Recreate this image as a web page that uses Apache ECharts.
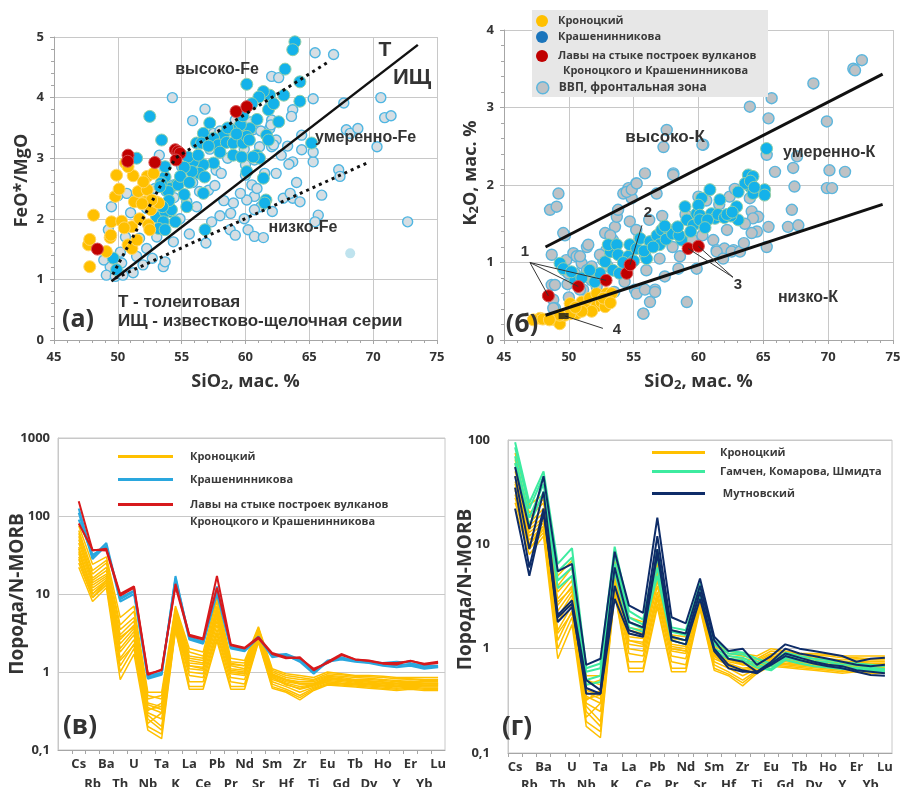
<!DOCTYPE html>
<html><head><meta charset="utf-8">
<script src="https://cdn.jsdelivr.net/npm/echarts@6/dist/echarts.min.js"></script>
<style>html,body{margin:0;padding:0;background:#fff}#c{width:901px;height:787px}</style>
</head><body><div id="c"></div>
<script>
// ---------- DATA ----------
const elements = ['Cs','Rb','Ba','Th','U','Nb','Ta','K','La','Ce','Pb','Pr','Nd','Sr','Sm','Hf','Zr','Ti','Eu','Gd','Tb','Dy','Ho','Y','Er','Yb','Lu'];

// Panel (а): SiO2 vs FeO*/MgO
const aKron = [[47.8,1.21],[47.7,1.57],[47.8,1.66],[48.1,2.06],[49.1,1.46],[49.4,1.69],[49.5,1.95],[49.45,1.73],[49.9,2.72],[49.8,2.37],[50.1,2.49],[50.3,1.96],[50.6,2.92],[50.8,1.57],[51.1,1.51],[51.2,2.71],[51.1,1.87],[51.3,2.28],[51.5,1.65],[51.6,2.45],[51.7,2.0],[52.1,2.28],[52.3,2.7],[52.3,2.48],[52.4,1.9],[52.5,1.82],[52.6,2.15],[52.8,2.75],[53.0,2.28],[53.2,2.26],[52.65,2.31],[52.0,2.61],[50.8,2.86],[51.9,2.25],[50.5,1.85]];
const aRed = [[48.4,1.5],[50.8,3.05],[50.77,2.95],[52.9,2.93],[54.5,3.14],[54.7,3.11],[54.87,3.08],[54.56,2.97],[59.26,3.77],[60.1,3.85]];
const aKrash = [[63.87,4.92],[63.7,4.79],[63.1,4.47],[60.1,4.22],[64.26,4.26],[64.26,3.94],[63.0,4.04],[61.9,4.04],[61.4,4.1],[61.05,4.01],[61.8,3.8],[60.9,3.64],[60.35,3.49],[59.6,3.55],[58.9,3.47],[58.26,3.38],[57.2,3.58],[56.7,3.41],[56.17,3.25],[57.5,3.33],[57.87,3.22],[58.5,3.26],[59.04,3.25],[59.8,3.25],[60.1,3.36],[61.65,3.38],[61.8,3.3],[59.04,3.05],[59.7,3.02],[60.87,3.05],[61.1,3.0],[60.6,3.02],[65.18,3.25],[57.5,2.92],[56.7,2.89],[56.4,2.75],[56.8,2.69],[55.9,2.94],[55.5,3.02],[54.6,2.56],[54.08,2.5],[53.7,2.69],[56.7,2.42],[60.1,2.78],[61.4,2.67],[61.6,2.31],[53.43,3.3],[53.4,2.59],[54.08,2.12],[56.83,1.82],[61.5,2.26],[52.5,3.69],[51.47,3.0],[53.7,2.86],[54.73,2.56],[53.95,2.45],[53.3,2.53],[53.04,2.03],[53.7,2.12],[54.2,2.15],[53.56,1.95],[53.2,1.84],[53.7,1.82],[55.4,2.2],[55.8,2.78],[56.3,3.05],[56.56,3.25],[49.64,1.35],[49.9,1.16],[57.1,3.2],[58.0,3.1],[58.6,3.5],[59.3,3.4],[60.3,3.3],[62.6,3.6],[62.2,3.9],[60.5,3.9],[59.8,3.7],[55.2,2.85],[54.9,2.7],[55.6,2.6],[54.0,2.3],[53.5,2.2],[54.5,1.95],[55.2,2.4]];
const aVVP = [[54.27,4.0],[56.83,3.81],[55.86,3.62],[53.25,3.05],[53.25,2.87],[55.0,2.86],[55.86,2.6],[56.4,2.45],[54.35,2.56],[55.4,2.28],[56.17,2.2],[54.87,2.0],[53.7,1.82],[53.05,1.7],[54.35,1.62],[53.56,1.21],[53.7,1.29],[52.26,1.51],[51.47,1.38],[50.3,1.27],[49.4,1.21],[48.9,1.32],[49.1,1.07],[49.8,1.05],[50.4,1.07],[51.2,1.11],[51.97,1.24],[49.26,1.82],[49.5,2.2],[50.0,2.38],[50.7,2.42],[51.7,1.68],[52.26,2.17],[52.9,2.09],[57.5,3.41],[57.87,3.14],[58.8,3.38],[59.6,3.52],[59.2,3.63],[60.6,3.47],[62.05,4.35],[61.9,3.85],[62.05,3.63],[61.9,3.49],[62.4,3.3],[62.05,3.19],[61.1,3.19],[59.6,3.03],[60.0,2.89],[60.7,2.97],[60.0,2.72],[60.5,2.56],[60.7,2.37],[60.1,2.31],[59.05,2.26],[59.6,2.42],[58.84,2.09],[58.8,1.82],[59.2,1.73],[60.2,1.82],[60.7,1.71],[61.4,1.69],[57.35,1.95],[61.5,2.75],[62.4,2.75],[62.96,2.34],[63.7,2.34],[64.27,2.28],[63.5,2.42],[61.6,2.31],[62.1,2.12],[63.7,2.94],[64.4,3.14],[64.4,3.38],[65.3,2.94],[65.3,3.1],[65.97,2.39],[65.7,2.06],[65.45,1.95],[65.3,3.98],[65.45,4.74],[66.9,4.71],[63.7,3.8],[63.6,3.69],[62.6,4.33],[67.7,3.91],[67.9,3.47],[68.2,3.41],[68.8,3.49],[70.6,4.0],[70.9,3.67],[71.4,3.7],[70.3,3.19],[67.3,2.81],[67.4,2.7],[72.7,1.95],[55.8,2.97],[57.7,2.8],[57.1,2.47],[57.2,3.15],[58.0,3.45],[58.6,3.0],[59.3,3.33],[59.9,3.15],[60.4,3.6],[61.2,3.45],[62.0,3.55],[63.3,3.2],[62.8,3.05],[63.4,2.9],[64.0,2.6],[60.9,2.5],[61.2,2.2],[59.9,2.0],[58.3,2.3],[57.6,2.55],[58.1,2.75],[60.7,2.15],[62.2,3.22],[50.6,1.7],[51.0,2.1],[50.2,1.45],[52.7,1.35],[53.8,2.45],[54.4,2.35],[51.5,2.35],[52.9,2.5],[56.9,1.6],[55.6,1.75],[58.0,2.05]];
const aPale = [[68.2,1.43]];
const aLineSolid = [[49.5,0.97],[73.5,4.87]];
const aLineDotUpper = [[49.6,1.08],[54.5,3.0],[66.5,4.59]];
const aLineDotLower = [[49.8,1.02],[69.7,2.94]];

// Panel (б): SiO2 vs K2O
const bKron = [[47.78,0.28],[47.26,0.26],[48.0,0.27],[48.93,0.26],[49.3,0.21],[49.7,0.32],[50.1,0.47],[50.6,0.34],[51.0,0.49],[51.25,0.41],[51.6,0.54],[52.15,0.44],[52.15,0.6],[52.5,0.49],[52.8,0.43],[53.05,0.54],[52.9,0.6],[53.3,0.6],[51.76,0.37],[51.0,0.37],[50.1,0.34],[49.3,0.32],[48.5,0.26],[52.66,0.54],[50.5,0.42],[53.2,0.48]];
const bRed = [[48.42,0.57],[50.73,0.69],[52.87,0.77],[54.46,0.86],[54.72,0.97],[59.2,1.18],[59.99,1.21]];
const bKrash = [[49.32,0.99],[49.57,0.92],[50.47,0.77],[52.0,0.75],[52.4,0.86],[52.8,1.01],[53.2,1.14],[53.04,1.23],[53.7,1.23],[53.8,1.1],[53.4,0.9],[53.9,0.86],[54.6,1.08],[54.7,1.23],[55.23,1.18],[55.5,1.31],[56.0,1.05],[56.26,1.27],[56.8,1.35],[57.0,1.23],[57.16,1.42],[57.8,1.38],[58.3,1.44],[58.7,1.29],[59.1,1.55],[58.96,1.72],[59.6,1.48],[59.86,1.63],[60.24,1.83],[60.0,1.74],[65.25,2.47],[63.84,2.13],[64.2,2.11],[63.97,1.98],[64.2,1.89],[63.6,2.02],[65.1,1.94],[65.1,1.87],[63.06,1.91],[60.88,1.94],[61.65,1.81],[60.1,1.61],[62.94,1.72],[61.0,1.63],[61.9,1.59],[61.27,1.57],[63.06,1.55],[60.1,1.55],[60.7,1.55],[55.8,1.15],[56.5,1.2],[57.5,1.3],[58.0,1.37],[58.5,1.35],[59.4,1.4],[61.5,1.62],[62.0,1.58],[62.5,1.6],[64.0,2.05],[64.3,1.97],[62.2,1.62],[60.5,1.45],[51.0,0.8],[51.6,0.9],[50.2,0.88],[54.2,1.0],[55.0,1.02],[57.4,1.47],[58.4,1.46],[62.6,1.65]];
const bVVP = [[48.55,1.68],[49.06,1.72],[49.2,1.89],[49.7,1.35],[48.68,1.1],[48.68,0.71],[48.8,0.52],[48.93,0.41],[49.06,0.26],[49.7,0.9],[49.8,1.03],[50.35,1.12],[50.47,0.86],[50.6,1.08],[50.99,0.99],[50.99,0.8],[51.4,1.2],[51.4,0.9],[51.1,0.65],[51.6,0.92],[51.76,0.77],[52.15,0.69],[52.66,1.03],[52.9,1.16],[52.8,1.38],[53.4,1.29],[53.56,1.46],[53.7,1.59],[54.2,1.89],[54.6,1.96],[54.85,1.83],[55.2,2.02],[55.87,2.15],[54.7,1.53],[55.2,1.42],[55.87,1.1],[55.98,0.9],[55.1,0.65],[56.26,0.49],[55.75,0.34],[56.77,1.89],[56.65,0.65],[57.4,0.82],[57.3,2.49],[57.55,2.71],[58.06,2.15],[58.45,0.92],[58.57,1.08],[59.1,0.49],[59.86,0.92],[59.99,1.85],[60.37,2.52],[61.14,1.29],[61.4,1.16],[62.0,1.18],[62.2,1.42],[62.7,1.16],[63.96,3.01],[63.96,1.83],[64.1,1.66],[64.5,1.4],[64.6,1.59],[65.26,1.2],[65.4,1.46],[65.26,2.39],[65.4,2.86],[65.64,3.12],[65.9,2.17],[66.9,1.46],[67.2,1.68],[67.3,2.22],[67.4,1.98],[67.7,1.48],[67.6,2.37],[68.86,3.31],[69.9,2.82],[70.1,2.19],[69.9,1.96],[70.3,1.96],[71.3,2.17],[71.94,3.5],[72.07,3.48],[72.6,3.61],[61.4,1.14],[61.9,1.05],[62.55,1.14],[63.2,1.14],[64.2,1.57],[64.1,1.38],[63.58,1.5],[49.57,1.38],[54.46,1.91],[54.85,1.94],[55.23,2.02],[58.05,2.13],[53.8,1.68],[53.2,1.35],[51.5,1.23],[50.86,1.08],[49.96,0.86],[48.93,0.71],[51.76,0.95],[55.23,0.6],[55.87,0.65],[56.65,0.62],[55.74,0.34],[48.8,0.41],[50.86,0.65],[60.3,2.52],[52.4,1.1],[53.0,0.95],[57.0,1.05],[58.0,1.2],[59.5,1.3],[60.3,1.35],[60.6,1.8],[61.6,1.75],[62.4,1.85],[62.8,1.95],[63.5,1.25],[59.0,1.62],[56.2,1.55],[57.2,1.6],[54.3,0.75],[53.5,0.62],[52.2,0.55],[50.0,0.55],[49.9,0.72]];
const bLineUpper = [[48.2,1.2],[74.2,3.43]];
const bLineLower = [[48.2,0.32],[74.2,1.75]];
const bMark4 = [[49.6,0.31]];
const bLeaders = [
  [[47.0,1.0],[48.42,0.57]], [[47.0,1.0],[50.73,0.69]], [[47.0,1.0],[52.87,0.77]],
  [[55.64,1.48],[54.72,0.97]],
  [[62.66,0.81],[59.2,1.18]], [[62.66,0.81],[59.99,1.21]],
  [[52.63,0.15],[49.7,0.31]]
];

// Panel (в) & (г): spider diagrams, rock / N-MORB
const kronLines = [
 [75,24,30,5.0,7.0,0.55,0.55,7.0,2.0,1.8,9,1.5,1.4,3.8,1.1,0.95,0.9,0.85,1.0,0.95,0.9,0.9,0.88,0.85,0.85,0.85,0.85],
 [65,20,27,4.0,6.0,0.5,0.45,6.5,1.8,1.6,8,1.35,1.3,3.6,1.05,0.9,0.85,0.8,0.95,0.92,0.88,0.87,0.85,0.82,0.82,0.8,0.8],
 [60,18,25,3.5,5.0,0.45,0.5,6.0,1.5,1.4,7,1.25,1.2,3.5,1.0,0.85,0.8,0.78,0.9,0.88,0.85,0.83,0.8,0.78,0.8,0.78,0.78],
 [55,16,22,3.0,4.5,0.4,0.36,5.5,1.4,1.3,6,1.2,1.1,3.3,0.95,0.8,0.75,0.75,0.88,0.85,0.8,0.8,0.78,0.75,0.76,0.75,0.75],
 [50,15,20,2.6,4.0,0.38,0.33,5.0,1.3,1.25,5,1.1,1.05,3.2,0.9,0.78,0.72,0.72,0.85,0.82,0.78,0.76,0.75,0.72,0.75,0.72,0.72],
 [45,14,18,2.3,3.6,0.35,0.3,4.5,1.2,1.15,4.5,1.05,1.0,3.0,0.88,0.75,0.7,0.7,0.82,0.8,0.76,0.74,0.72,0.7,0.72,0.7,0.7],
 [40,13,17,2.0,3.3,0.33,0.36,4.2,1.1,1.05,4.0,1.0,0.95,2.9,0.85,0.72,0.65,0.68,0.8,0.78,0.74,0.72,0.7,0.68,0.7,0.68,0.68],
 [35,12,16,1.8,3.0,0.3,0.25,4.0,1.0,0.95,3.5,0.95,0.9,2.8,0.8,0.7,0.6,0.66,0.78,0.75,0.72,0.7,0.68,0.66,0.68,0.66,0.66],
 [33,11,15,1.5,2.6,0.28,0.2,3.8,0.9,0.85,3.2,0.85,0.8,2.7,0.75,0.65,0.55,0.64,0.75,0.72,0.7,0.68,0.66,0.64,0.66,0.64,0.64],
 [30,10,14,1.2,2.3,0.25,0.18,3.6,0.75,0.75,3.0,0.75,0.7,2.6,0.7,0.6,0.5,0.62,0.72,0.7,0.68,0.66,0.64,0.62,0.64,0.62,0.62],
 [28,9,13,1.0,2.0,0.2,0.16,3.5,0.65,0.65,2.7,0.65,0.65,2.5,0.65,0.57,0.47,0.6,0.7,0.68,0.66,0.64,0.62,0.6,0.62,0.6,0.6],
 [22,8,12,0.8,1.7,0.18,0.14,3.4,0.6,0.6,2.5,0.6,0.6,2.4,0.62,0.55,0.44,0.58,0.68,0.66,0.64,0.62,0.6,0.58,0.6,0.58,0.58],
 [25,9,14,1.4,2.2,0.22,0.3,4.8,1.2,1.1,5.5,1.0,0.95,3.4,0.85,0.68,0.62,0.68,0.75,0.72,0.7,0.7,0.67,0.65,0.7,0.67,0.68],
 [38,10,15,2.8,3.8,0.32,0.4,6.5,1.6,1.5,6.5,1.3,1.2,3.7,0.92,0.8,0.7,0.7,0.85,0.8,0.78,0.77,0.74,0.72,0.74,0.72,0.72]
];
const krashLines = [
 [125,30,45,8.5,10.8,0.82,0.92,17,2.7,2.35,11,2.05,1.88,2.8,1.55,1.65,1.35,0.95,1.35,1.45,1.35,1.3,1.2,1.15,1.2,1.1,1.15],
 [110,28,42,8.0,10.0,0.85,0.95,15,2.6,2.3,10,2.0,1.85,2.75,1.6,1.6,1.4,1.0,1.4,1.5,1.4,1.35,1.3,1.35,1.3,1.2,1.2],
 [90,32,40,9.0,11,0.9,0.98,16,2.8,2.45,12.5,2.1,1.95,2.85,1.65,1.7,1.45,1.02,1.32,1.55,1.38,1.32,1.25,1.22,1.25,1.15,1.18]
];
const junctionLines = [
 [155,36,38,10,12.5,0.95,1.05,13.5,3.0,2.7,17,2.25,2.05,2.8,1.75,1.55,1.5,1.1,1.3,1.65,1.45,1.4,1.3,1.3,1.38,1.28,1.35],
 [80,37,36,9.5,12,0.92,1.08,12.5,2.9,2.6,12,2.2,2.0,2.7,1.7,1.5,1.55,1.05,1.35,1.7,1.45,1.38,1.28,1.25,1.4,1.25,1.3]
];
const gamchenLines = [
 [95,25,50,6.5,9.2,0.65,0.72,9.5,2.3,1.9,9,1.6,1.5,4.2,1.2,0.95,0.92,0.8,0.72,0.92,0.85,0.8,0.78,0.74,0.72,0.7,0.68],
 [85,22,45,5.5,7.5,0.6,0.65,8,2.0,1.7,7.5,1.45,1.35,3.9,1.1,0.9,0.88,0.75,0.68,0.88,0.8,0.76,0.74,0.7,0.7,0.66,0.64],
 [70,18,38,4.5,6.0,0.5,0.55,6.5,1.8,1.55,6,1.3,1.2,3.5,1.0,0.85,0.82,0.7,0.64,0.82,0.76,0.72,0.7,0.66,0.66,0.64,0.62],
 [60,15,32,3.8,5.0,0.45,0.48,5.5,1.6,1.45,5,1.2,1.1,3.2,0.95,0.8,0.78,0.66,0.62,0.78,0.72,0.68,0.66,0.64,0.64,0.62,0.6]
];
const mutnovLines = [
 [55,14,45,5.5,6.5,0.7,0.8,8.5,2.6,2.2,18,2.0,1.75,4.7,1.3,0.95,1.0,0.7,0.85,1.1,1.0,0.95,0.9,0.85,0.75,0.8,0.82],
 [45,9,32,2.1,2.9,0.5,0.4,6,1.8,1.6,12,1.5,1.4,4.0,1.2,0.8,0.75,0.6,0.75,1.0,0.9,0.85,0.8,0.75,0.7,0.68,0.7],
 [35,6,22,1.8,2.5,0.42,0.37,4,1.5,1.35,9,1.3,1.2,3.5,1.0,0.7,0.62,0.58,0.72,0.9,0.82,0.75,0.7,0.68,0.62,0.6,0.58],
 [22,5,20,2.0,2.7,0.37,0.37,3,1.4,1.3,8,1.2,1.1,3.0,0.95,0.65,0.6,0.6,0.7,0.85,0.78,0.72,0.68,0.65,0.6,0.56,0.55]
];

// ---------- STYLE ----------
const FONT = "'Open Sans', 'DejaVu Sans', sans-serif";
const ARIAL = "'Liberation Sans', Arial, sans-serif";
const TXT = '#333333';
const AX = '#a6a6a6';
const GRIDC = '#c8c8c8';
const C_KRON = '#FFC000', C_CYAN = '#14B2EA', C_RED = '#C00000';
const C_BLUE_L = '#2AA7DE', C_RED_L = '#D7191C', C_GREEN = '#3DEBA0', C_NAVY = '#0E2C68';

const NM_KRON = 'Кроноцкий', NM_KRASH = 'Крашенинникова', NM_RED = 'Лавы на стыке построек вулканов', NM_VVP = 'ВВП, фронтальная зона';
const NB = '\u00a0';

const nameRich = {
  a:{fontSize:18,fontWeight:'bold',color:TXT,fontFamily:FONT},
  s:{fontSize:13,fontWeight:'bold',color:TXT,fontFamily:FONT,padding:[7,0,0,0]}
};

function sciX(gi, nameStr) {
  return {gridIndex:gi, type:'value', min:45, max:75, interval:5,
    axisLine:{show:true,onZero:false,lineStyle:{color:AX}},
    axisTick:{show:true,length:4,lineStyle:{color:AX}},
    minorTick:{show:true,splitNumber:5,length:3,lineStyle:{color:AX}},
    axisLabel:{fontSize:13,fontWeight:'bold',color:TXT,margin:11,fontFamily:FONT},
    splitLine:{show:true,lineStyle:{color:GRIDC}},
    name:nameStr, nameLocation:'middle', nameGap:32,
    nameTextStyle:{rich:nameRich}};
}
function sciY(gi, max, nameStr, pad) {
  return {gridIndex:gi, type:'value', min:0, max:max, interval:1,
    axisLine:{show:true,onZero:false,lineStyle:{color:AX}},
    axisTick:{show:true,length:4,lineStyle:{color:AX}},
    minorTick:{show:true,splitNumber:5,length:3,lineStyle:{color:AX}},
    axisLabel:{fontSize:13,fontWeight:'bold',color:TXT,margin:10,fontFamily:FONT},
    splitLine:{show:true,lineStyle:{color:GRIDC}},
    name:nameStr, nameLocation:'middle', nameGap:23,
    nameTextStyle:{rich:nameRich, padding:[0,0,0,pad]}};
}
const idx = elements.map((e,i)=>i);
const evenIdx = idx.filter(i=>i%2===0), oddIdx = idx.filter(i=>i%2===1);
function spiderX(gi, mn, mg, labels, main) {
  return {gridIndex:gi, type:'value', min:mn, max:26.5, position:'bottom',
    axisLine:{show:main,onZero:false,lineStyle:{color:AX}},
    axisTick:{show:main,length:4,customValues:idx.map(i=>i-0.5).filter(v=>v>=mn),lineStyle:{color:AX}},
    axisLabel:{customValues:labels, showMinLabel:true, showMaxLabel:true,
      fontSize:13, fontWeight:'bold', color:TXT, fontFamily:FONT, margin:mg,
      formatter:(v)=>elements[Math.round(v)]},
    splitLine:{show:false}};
}
function spiderY(gi, max, gap, mg, pad) {
  return {gridIndex:gi, type:'log', logBase:10, min:0.1, max:max,
    axisLine:{show:true,onZero:false,lineStyle:{color:GRIDC}},
    axisTick:{show:false},
    axisLabel:{fontSize:13,fontWeight:'bold',color:TXT,margin:mg,fontFamily:FONT,
      formatter:(v)=> v<0.5 ? '0,1' : String(Math.round(v))},
    splitLine:{show:true,lineStyle:{color:GRIDC}},
    name:'Порода/N-MORB', nameLocation:'middle', nameGap:gap, nameMoveOverlap:false,
    nameTextStyle:{fontSize:19,fontWeight:'bold',color:TXT,fontFamily:FONT,padding:[0,0,0,pad]}};
}

const series = [];
function scat(name, data, ai, fill, border, bw, size, z) {
  series.push({type:'scatter', name:name, xAxisIndex:ai, yAxisIndex:ai, data:data, symbolSize:size, z:z,
    itemStyle:{color:fill, borderColor:border, borderWidth:bw, opacity:1}, emphasis:{disabled:true}});
}
function bline(data, ai, type, w) {
  series.push({type:'line', xAxisIndex:ai, yAxisIndex:ai, data:data, symbol:'none', z:6,
    lineStyle:{color:'#111', width:w, type:type}, silent:true});
}
// (а)
scat(NM_VVP, aVVP, 0, '#D6DEE3', '#4FB6E2', 1.4, 10, 2);
scat(NM_VVP, aPale, 0, '#BFE3EE', '#BFE3EE', 0, 10, 2);
scat(NM_KRASH, aKrash, 0, C_CYAN, '#93CFA8', 1, 12, 3);
scat(NM_KRON, aKron, 0, C_KRON, '#FFD766', 1, 12, 4);
scat(NM_RED, aRed, 0, C_RED, '#D85050', 1, 12, 5);
bline(aLineSolid, 0, 'solid', 2.5);
bline(aLineDotUpper, 0, [3,4], 3);
bline(aLineDotLower, 0, [3,4], 3);
// (б)
scat(NM_VVP, bVVP, 1, '#BEC2C5', '#5CB6DD', 1.4, 11, 2);
scat(NM_KRON, bKron, 1, C_KRON, '#FFD766', 1, 12, 3);
scat(NM_KRASH, bKrash, 1, C_CYAN, '#93CFA8', 1, 12, 4);
scat(NM_RED, bRed, 1, C_RED, '#D85050', 1, 12, 5);
bline(bLineUpper, 1, 'solid', 3);
bline(bLineLower, 1, 'solid', 3);
bLeaders.forEach(d => series.push({type:'line', xAxisIndex:1, yAxisIndex:1, data:d, symbol:'none', z:6, silent:true,
  lineStyle:{color:'#333', width:1}}));
series.push({type:'scatter', xAxisIndex:1, yAxisIndex:1, data:bMark4, symbol:'rect', symbolSize:[10,6], z:7,
  itemStyle:{color:'#1a1a1a'}});
// spiders
function spider(name, arr, ai, color, w, z) {
  arr.forEach(vals => series.push({type:'line', name:name, xAxisIndex:ai, yAxisIndex:ai, color:color,
    data: vals.map((v,i)=>[i,v]), symbol:'none', z:z, silent:true,
    lineStyle:{color:color, width:w}}));
}
spider(NM_KRON+NB, kronLines, 2, C_KRON, 1.5, 2);
spider(NM_KRASH+NB, krashLines, 2, C_BLUE_L, 2, 3);
spider(NM_RED+NB, junctionLines, 2, C_RED_L, 2, 4);
spider(NM_KRON+NB, kronLines, 3, C_KRON, 1.5, 2);
spider('Гамчен, Комарова, Шмидта', gamchenLines, 3, C_GREEN, 2, 3);
spider(NB+'Мутновский', mutnovLines, 3, C_NAVY, 2, 4);

// legends
const legTxt = {fontSize:11, fontWeight:'bold', color:'#3a3a3a', fontFamily:FONT};
function dotLegend(name, top, style, fs) {
  return {show:true, left:536, top:top, padding:0, itemWidth:22, itemHeight:12, icon:'circle', selectedMode:false, z:10,
    data:[{name:name, itemStyle:style}], textStyle:Object.assign({}, legTxt, fs?{fontSize:fs}:{})};
}
function lineLegend(name, left, top, w, pad) {
  return {show:true, left:left, top:top, padding:0, itemWidth:w, itemHeight:3, icon:'rect', selectedMode:false, z:10,
    data:[name], textStyle:Object.assign({padding:[0,0,0,pad]}, legTxt)};
}
const legends = [
  dotLegend(NM_KRON, 15, {color:C_KRON, borderWidth:0}),
  dotLegend(NM_KRASH, 31, {color:'#1B75BC', borderWidth:0}),
  dotLegend(NM_RED, 50, {color:C_RED, borderWidth:0}),
  dotLegend(NM_VVP, 81, {color:'#BEC2C5', borderColor:'#5CB6DD', borderWidth:1.5}, 12),
  lineLegend(NM_KRON+NB, 118, 451, 55, 12),
  lineLegend(NM_KRASH+NB, 118, 474, 55, 12),
  lineLegend(NM_RED+NB, 118, 499, 55, 12),
  lineLegend(NM_KRON+NB, 652, 447, 53, 10),
  lineLegend('Гамчен, Комарова, Шмидта', 652, 466, 53, 10),
  lineLegend(NB+'Мутновский', 652, 488, 53, 10)
];

function txt(x, y, s, size, align, font, fill) {
  return {type:'text', x:x, y:y, z:20, silent:true,
    style:{text:s, fontSize:size, fontWeight:'bold', fontFamily:font||ARIAL, fill:fill||'#333', align:align||'center', verticalAlign:'middle'}};
}
const graphics = [
  {type:'rect', z:3, silent:true, shape:{x:532,y:10,width:236,height:87}, style:{fill:'#e7e7e7'}},
  txt(563, 71, 'Кроноцкого и Крашенинникова', 11, 'left', FONT, '#3a3a3a'),
  // (а)
  txt(217, 70, 'высоко-Fe', 16),
  txt(385, 50, 'Т', 21),
  txt(412, 78, 'ИЩ', 22),
  txt(315, 138, 'умеренно-Fe', 16, 'left'),
  txt(303, 228, 'низко-Fe', 16),
  txt(78, 320, '(а)', 25, 'center', FONT),
  txt(118, 302, 'Т - толеитовая', 17, 'left'),
  txt(118, 321, 'ИЩ - известково-щелочная серии', 17, 'left'),
  // (б)
  txt(665, 137, 'высоко-К', 17),
  txt(783, 153, 'умеренно-К', 16, 'left'),
  txt(808, 298, 'низко-К', 16),
  txt(522, 325, '(б)', 25, 'center', FONT),
  txt(525, 252, '1', 15),
  txt(648, 213, '2', 15),
  txt(738, 285, '3', 15),
  txt(617, 330, '4', 15),
  // spiders
  txt(190, 522, 'Кроноцкого и Крашенинникова', 11, 'left', FONT, '#3a3a3a'),
  txt(80, 727, '(в)', 26, 'center', FONT),
  txt(517, 728, '(г)', 26, 'center', FONT)
];

const option = {
  animation:false,
  backgroundColor:'#fff',
  grid:[
    {left:54, top:37, width:383, height:303, outerBoundsMode:'none'},
    {left:504, top:30, width:389, height:310, outerBoundsMode:'none'},
    {left:58, top:438, width:387, height:312, show:true, borderColor:GRIDC, borderWidth:1, outerBoundsMode:'none'},
    {left:508, top:440, width:384, height:313, show:true, borderColor:GRIDC, borderWidth:1, outerBoundsMode:'none'}
  ],
  xAxis:[
    sciX(0, '{a|SiO}{s|2}{a|, мас. %}'),
    sciX(1, '{a|SiO}{s|2}{a|, мас. %}'),
    spiderX(2, -1.5, 8, evenIdx, true),
    spiderX(3, -0.5, 8, evenIdx, true),
    spiderX(2, -1.5, 28, oddIdx, false),
    spiderX(3, -0.5, 26, oddIdx, false)
  ],
  yAxis:[
    sciY(0, 5, '{a|FeO*/MgO}', 16),
    sciY(1, 4, '{a|K}{s|2}{a|O, мас. %}', 24),
    spiderY(2, 1000, 31, 8, 0),
    spiderY(3, 100, 33, 18, 14)
  ],
  legend: legends,
  graphic: graphics,
  series: series
};
const chart = echarts.init(document.getElementById('c'));
chart.setOption(option);
</script>
</body></html>
